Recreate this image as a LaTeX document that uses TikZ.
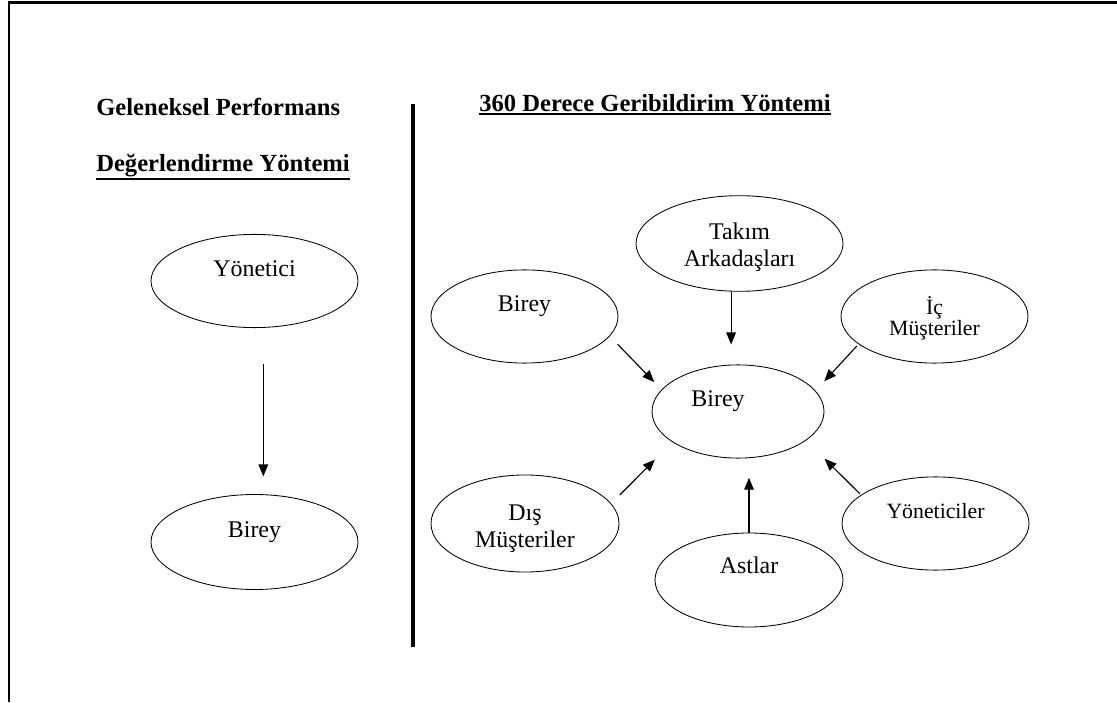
\documentclass[tikz,border=0pt]{standalone}
\usepackage{fontspec}
\setmainfont{Liberation Serif}
\usetikzlibrary{arrows.meta,shapes.geometric}

% thick underline that follows the depth of the text
\newcommand{\ulbf}[1]{\setbox0\hbox{#1}\rlap{\rule[\dimexpr-\dp0-2.1pt\relax]{\wd0}{1.4pt}}\box0}

\begin{document}
\begin{tikzpicture}[
  every node/.style={font=\fontsize{17}{19.2}\selectfont},
  oval/.style={draw,ellipse,line width=0.6pt,inner sep=2pt,align=center,
               minimum width=4.7cm,minimum height=2.33cm,
               text height=0.45cm,text depth=0.675cm},
  twoline/.style={text height=1.35cm,text depth=0.2cm},
  ttl/.style={font=\fontsize{17.5}{21}\selectfont\bfseries,inner sep=0pt,anchor=base west},
  arr/.style={-{Triangle[length=0.3cm,width=0.24cm]},line width=0.8pt},
]
  \useasboundingbox (0,0) rectangle (27.925,17.55);

  % Page edge
  \draw[line width=1.9pt] (27.925,17.4875) -- (0.225,17.4875) -- (0.225,0);

  % Titles
  \node[ttl] (tleft1) at (2.4,14.65) {Geleneksel Performans};
  \node[ttl] (tleft2) at (2.4,13.25) {\ulbf{Değerlendirme Yöntemi}};
  \node[ttl] (tright) at (11.975,14.7625) {\ulbf{360 Derece Geribildirim Yöntemi}};

  % Divider
  \draw[line width=3pt] (10.325,14.95) -- (10.325,1.375);

  % Traditional method
  \node[oval,minimum width=5.175cm] (yon) at (6.3625,10.525) {Yönetici};
  \node[oval,minimum width=5.175cm,minimum height=2.375cm] (bireyL) at (6.3625,4.0) {Birey};
  \draw[arr,shorten <=0.9cm,shorten >=0.44cm]
    ([xshift=0.22cm]yon.south) -- ([xshift=0.22cm]yon.south |- bireyL.north);

  % 360 degree method
  \node[oval,twoline,minimum width=5.175cm] (takim) at (18.4875,11.4625) {Takım\\Arkadaşları};
  \node[oval,minimum width=4.675cm] (bireyR) at (13.1125,9.6375) {Birey};
  \node[oval,minimum width=4.675cm,font=\fontsize{15.5}{15}\selectfont,
        text height=1.175cm,text depth=0.2cm] (ic) at (23.3625,9.6375) {İç\\Müşteriler};
  \node[oval,minimum width=4.3cm] (merkez) at (18.45,7.2625) {Birey\hspace*{1.0cm}};
  \node[oval,twoline,text height=1.375cm] (dis) at (13.125,4.4625) {Dış\\Müşteriler};
  \node[oval,minimum height=2.35cm,text depth=0.8cm] (astlar) at (18.725,3.05) {Astlar};
  \node[oval,minimum width=4.675cm,font=\fontsize{15.5}{18}\selectfont]
    (yoneticiler) at (23.3875,4.4625) {Yöneticiler};

  % Arrows into the centre
  \draw[arr,shorten >=0.5cm]
    ([xshift=-0.21cm]takim.south) -- ([xshift=-0.21cm]takim.south |- merkez.north);
  \draw[arr,shorten <=0.28cm,shorten >=0.26cm] (bireyR.-13) -- (merkez.164);
  \draw[arr,shorten <=0.06cm,shorten >=0.32cm] (ic.200.7) -- (merkez.15);
  \draw[arr,shorten <=0.3cm,shorten >=0.62cm] (dis.13) -- (merkez.205);
  \draw[arr,shorten <=0.04cm,shorten >=0.65cm] (yoneticiler.159) -- (merkez.-23);
  \draw[arr,shorten >=0.48cm] (astlar.north) -- (astlar.north |- merkez.south);
\end{tikzpicture}
\end{document}
